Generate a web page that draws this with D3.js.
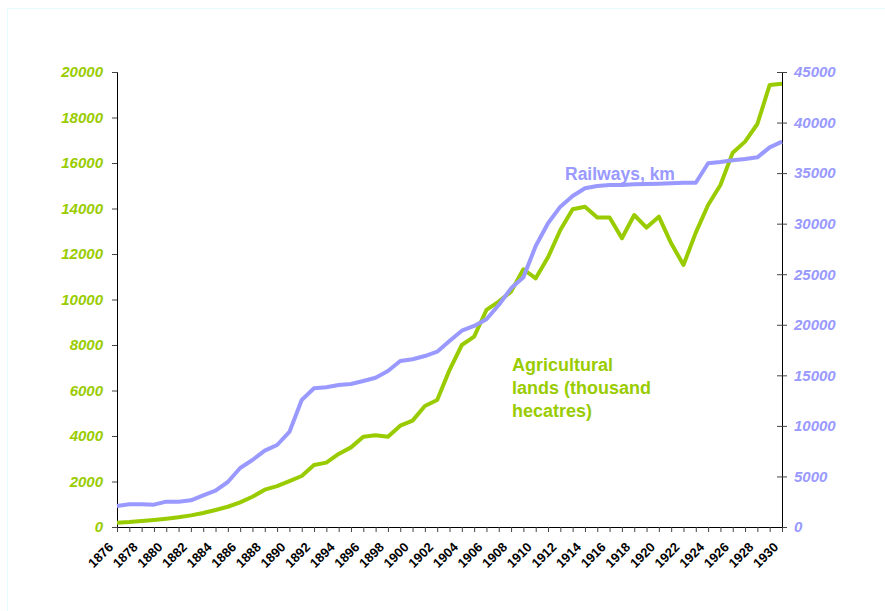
<!DOCTYPE html>
<html>
<head>
<meta charset="utf-8">
<script src="https://cdn.jsdelivr.net/npm/d3@7"></script>
<style>
  html, body { margin: 0; padding: 0; background: #fff; }
  svg { display: block; font-family: "Liberation Sans", Arial, sans-serif; }
</style>
</head>
<body>
<svg id="chart" width="885" height="611"></svg>
<script>
const years = [1876,1877,1878,1879,1880,1881,1882,1883,1884,1885,1886,1887,1888,1889,1890,1891,1892,1893,1894,1895,1896,1897,1898,1899,1900,1901,1902,1903,1904,1905,1906,1907,1908,1909,1910,1911,1912,1913,1914,1915,1916,1917,1918,1919,1920,1921,1922,1923,1924,1925,1926,1927,1928,1929,1930];
const agriLands = [190,220,265,310,365,425,510,615,750,890,1085,1330,1640,1800,2020,2242,2725,2830,3210,3500,3970,4030,3970,4455,4675,5320,5580,6900,8000,8366,9540,9905,10345,11330,10930,11855,13055,13965,14080,13600,13600,12690,13715,13160,13640,12470,11520,12940,14155,15035,16455,16940,17715,19430,19480];
const railways = [2080,2245,2245,2210,2505,2505,2640,3135,3590,4450,5835,6625,7550,8110,9400,12560,13720,13815,14045,14140,14440,14765,15430,16415,16585,16910,17340,18400,19415,19880,20540,21955,23605,24695,27790,30035,31680,32735,33500,33725,33825,33825,33890,33920,33955,33990,34050,34050,35970,36100,36265,36395,36560,37550,38110];
const leftTicks = [0,2000,4000,6000,8000,10000,12000,14000,16000,18000,20000];
const rightTicks = [0,5000,10000,15000,20000,25000,30000,35000,40000,45000];
const labelYears = [1876,1878,1880,1882,1884,1886,1888,1890,1892,1894,1896,1898,1900,1902,1904,1906,1908,1910,1912,1914,1916,1918,1920,1922,1924,1926,1928,1930];
const railLabel = "Railways, km";
const agriLabel = ["Agricultural", "lands (thousand", "hecatres)"];

const GREEN = "#99CC00", PURPLE = "#9999FF";
const svg = d3.select("#chart");

// faint outer frame
svg.append("rect").attr("x", 7.5).attr("y", 8.5).attr("width", 900).attr("height", 700)
  .attr("fill", "none").attr("stroke", "#e6fbfb").attr("stroke-width", 1);

const L = 117, R = 782, T = 72, B = 527;
const x = d3.scaleLinear().domain([years[0], years[years.length-1]]).range([L, R]);
const yL = d3.scaleLinear().domain([0, 20000]).range([B, T]);
const yR = d3.scaleLinear().domain([0, 45000]).range([B, T]);

// left axis
const gL = svg.append("g").attr("transform", `translate(${L},0)`)
  .call(d3.axisLeft(yL).tickValues(leftTicks).tickSize(5).tickPadding(9).tickFormat(d3.format("d")));
gL.select(".domain").attr("stroke", "#000");
gL.selectAll(".tick line").attr("stroke", "#444");
gL.selectAll(".tick text").attr("fill", GREEN).attr("font-size", 15).attr("font-weight", "bold")
  .attr("font-style", "italic").attr("font-family", "Liberation Sans, Arial, sans-serif");

// right axis
const gR = svg.append("g").attr("transform", `translate(${R},0)`)
  .call(d3.axisRight(yR).tickValues(rightTicks).tickSize(5).tickPadding(7).tickFormat(d3.format("d")));
gR.select(".domain").attr("stroke", "#000");
gR.selectAll(".tick line").attr("stroke", "#444").attr("x1", -5);
gR.selectAll(".tick text").attr("fill", PURPLE).attr("font-size", 15).attr("font-weight", "bold")
  .attr("font-style", "italic").attr("font-family", "Liberation Sans, Arial, sans-serif");

// bottom axis
const gB = svg.append("g").attr("transform", `translate(0,${B})`)
  .call(d3.axisBottom(x).tickValues(years).tickSize(5).tickFormat(""));
gB.select(".domain").attr("stroke", "#000");
gB.selectAll(".tick line").attr("stroke", "#444");

svg.append("g").selectAll("text").data(labelYears).join("text")
  .attr("transform", d => `translate(${x(d) - 3},${B + 21}) rotate(-45)`)
  .attr("text-anchor", "end")
  .attr("font-size", 13).attr("font-weight", "bold").attr("fill", "#000")
  .text(d => d);

// lines
const lineAgri = d3.line().x((d, i) => x(years[i])).y(d => yL(d));
const lineRail = d3.line().x((d, i) => x(years[i])).y(d => yR(d));
svg.append("path").datum(agriLands).attr("d", lineAgri)
  .attr("fill", "none").attr("stroke", GREEN).attr("stroke-width", 4).attr("stroke-linejoin", "round");
svg.append("path").datum(railways).attr("d", lineRail)
  .attr("fill", "none").attr("stroke", PURPLE).attr("stroke-width", 4).attr("stroke-linejoin", "round");

// annotations
svg.append("text").attr("x", 565).attr("y", 180)
  .attr("font-size", 17.5).attr("font-weight", "bold").attr("fill", PURPLE).text(railLabel);
svg.append("g").selectAll("text").data(agriLabel).join("text")
  .attr("x", 512).attr("y", (d, i) => 371 + i * 23)
  .attr("font-size", 18).attr("font-weight", "bold").attr("fill", GREEN).text(d => d);
</script>
</body>
</html>
